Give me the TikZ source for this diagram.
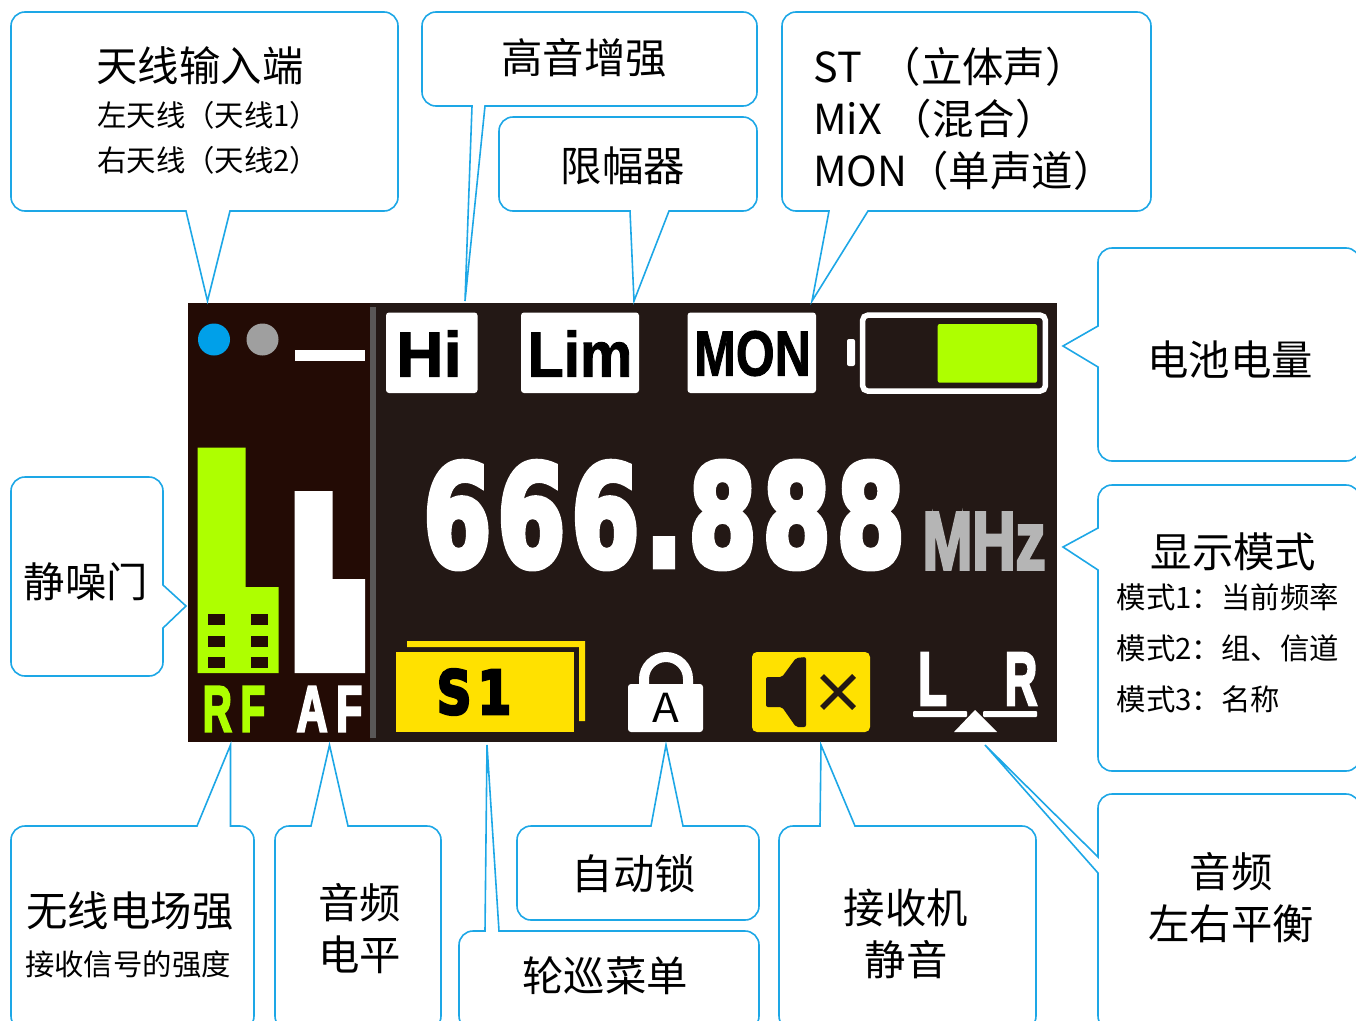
\documentclass[tikz,border=0pt]{standalone}
\usepackage{fontspec}
\usepackage{graphicx}
\setmainfont{Noto Sans CJK SC}
\newfontfamily\arialfont{Liberation Sans Bold}[FakeBold=1.5]
\newfontfamily\heavyfont{Liberation Sans Bold}[FakeBold=4]
\newfontfamily\digitfont{DejaVu Sans Bold}[LetterSpace=6,FakeBold=5]
\newcommand{\fsize}[1]{\fontsize{#1}{#1}\selectfont}
\newcommand{\narrow}[2]{\scalebox{#1}[1]{#2}}
\definecolor{linecyan}{HTML}{1DA7E6}
\definecolor{panelleft}{HTML}{230B05}
\definecolor{panelright}{HTML}{231815}
\definecolor{lcdgreen}{HTML}{AEFF00}
\definecolor{lcdyellow}{HTML}{FFE100}
\definecolor{lcdgrey}{HTML}{595757}
\definecolor{lcdblue}{HTML}{00A0E9}
\definecolor{dotgrey}{HTML}{9F9F9F}
\definecolor{mhzgrey}{HTML}{B5B5B5}
\begin{document}
\begin{tikzpicture}[x=1pt,y=-1pt,
    balloon/.style={draw=linecyan, line width=1.6pt},
    bigtxt/.style={inner sep=0pt, font=\fsize{41.4}},
    smalltxt/.style={inner sep=0pt, anchor=west, font=\fsize{29.4}},
    iconbox/.style={fill=white, rounded corners=3pt},
    lcdtxt/.style={inner sep=0pt}]
    \useasboundingbox (0,0) rectangle (1356,1020);
    \clip (0,0) rectangle (1356,1020);
    % screen
    \fill[panelright] (370,303) rectangle (1057,742);
    \fill[panelleft] (188,303) rectangle (370,742);
    \fill[lcdgrey] (370,307) rectangle (376,738);
    \fill[lcdblue] (214,339.5) circle (16pt);
    \fill[dotgrey] (262.5,339.5) circle (16pt);
    \fill[white] (294.5,350) rectangle (365,361);
    % level bars
    \fill[lcdgreen] (197.5,447.5) -- (245.5,447.5) -- (245.5,587) -- (278.5,587) -- (278.5,673) -- (197.5,673) -- cycle;
    \foreach \y in {614,636,657} {
        \fill[panelleft] (208,\y) rectangle (225,\y+11);
        \fill[panelleft] (251,\y) rectangle (268,\y+11);
    }
    \fill[white] (294.5,491) -- (332.5,491) -- (332.5,579) -- (365,579) -- (365,673) -- (294.5,673) -- cycle;
    \node[lcdtxt, text=lcdgreen, font=\heavyfont\fsize{65}] (rflabel) at (234,709) {\narrow{0.62}{R\kern 14pt F}};
    \node[lcdtxt, text=white, font=\heavyfont\fsize{65}] (aflabel) at (329.5,709) {\narrow{0.66}{A\kern 13pt F}};
    % top row
    \fill[iconbox] (386,312.5) rectangle (477.5,393);
    \fill[iconbox] (521,312.5) rectangle (639,393);
    \fill[iconbox] (687.5,312.5) rectangle (816,393);
    \node[lcdtxt, font=\arialfont\fsize{64}] (hilabel) at (429,353.5) {\narrow{1.02}{Hi}};
    \node[lcdtxt, font=\arialfont\fsize{64}] (limlabel) at (580,353.5) {\narrow{0.92}{Lim}};
    \node[lcdtxt, font=\arialfont\fsize{64}] (monlabel) at (752.5,353.5) {\narrow{0.78}{MON}};
    \fill[white, rounded corners=2pt] (847,339) rectangle (855,366);
    \draw[white, line width=5.5pt, rounded corners=5pt] (862.7,315.2) rectangle (1045.3,391);
    \fill[lcdgreen, rounded corners=2pt] (937.7,324) rectangle (1037,382.7);
    % frequency
    \node[inner sep=0pt, text=white, font=\digitfont\fsize{140}] (freq) at (664,515) {\narrow{0.7}{666.888}};
    \node[lcdtxt, text=mhzgrey, font=\heavyfont\fsize{82}] (mhz) at (984,541) {\narrow{0.73}{MHz}};
    % bottom row
    \fill[lcdyellow] (407,641) -- (585,641) -- (585,721) -- (579,721) -- (579,647) -- (407,647) -- cycle;
    \fill[lcdyellow] (396,652) rectangle (574,732);
    \node[inner sep=0pt, font=\digitfont\fsize{60}] (menulabel) at (474,692) {\narrow{0.8}{S\kern 8pt 1}};
    \draw[white, line width=10pt] (644,690) -- (644,679) arc[start angle=180, end angle=0, radius=22pt] -- (688,690);
    \fill[white, rounded corners=3pt] (628,684) rectangle (703,732);
    \node[inner sep=0pt, font=\fsize{40}] (locklabel) at (666,707.5) {\narrow{1.1}{A}};
    \fill[lcdyellow, rounded corners=5pt] (752,652) rectangle (870,732);
    \fill[panelright, rounded corners=2pt] (766,677) -- (782,677) -- (796,658) -- (806,657) -- (806,727) -- (796,727) -- (782,707) -- (766,707) -- cycle;
    \draw[panelright, line width=5.5pt] (822,676) -- (854,708) (854,676) -- (822,708);
    \node[lcdtxt, text=white, font=\heavyfont\fsize{75}] (leftlabel) at (932.5,679) {\narrow{0.63}{L}};
    \node[lcdtxt, text=white, font=\heavyfont\fsize{75}] (rightlabel) at (1021,679) {\narrow{0.6}{R}};
    \fill[white, rounded corners=1pt] (913,711) rectangle (967,717);
    \fill[white, rounded corners=1pt] (983,711) rectangle (1037,717);
    \fill[white] (975,710) -- (997,732) -- (954,732) -- cycle;
    % top balloons
    \draw[balloon] (186,211) -- (207.5,301) -- (230,211) [rounded corners=14pt] -- (398,211) -- (398,12) -- (11,12) -- (11,211) [sharp corners] -- cycle;
    \node[bigtxt] (antenna) at (200,66) {天线输入端};
    \node[smalltxt] (antleft) at (97,115) {左天线（天线1）};
    \node[smalltxt] (antright) at (97,160) {右天线（天线2）};
    \draw[balloon] (472,106) -- (465,301) -- (485,106) [rounded corners=14pt] -- (757,106) -- (757,12) -- (422,12) -- (422,106) [sharp corners] -- cycle;
    \node[bigtxt] (treble) at (584,58) {高音增强};
    \draw[balloon] (630,211) -- (634,301) -- (669,211) [rounded corners=14pt] -- (757,211) -- (757,117) -- (499,117) -- (499,211) [sharp corners] -- cycle;
    \node[bigtxt] (limiter) at (623,166) {限幅器};
    \draw[balloon] (829,211) -- (812,301) -- (868,211) [rounded corners=14pt] -- (1151,211) -- (1151,12) -- (782,12) -- (782,211) [sharp corners] -- cycle;
    \node[bigtxt, anchor=west, align=left, font=\fontsize{41.4}{52}\selectfont] (stereo) at (813,118.5) {ST\hspace{18pt}（立体声）\\MiX\hspace{9pt}（混合）\\MON（单声道）};
    % right balloons
    \draw[balloon] (1098,326) -- (1063,346) -- (1098,367) [rounded corners=14pt] -- (1098,461) -- (1360,461) -- (1360,248) -- (1098,248) [sharp corners] -- cycle;
    \node[bigtxt] (battery) at (1230,360) {电池电量};
    \draw[balloon] (1098,528) -- (1063,547) -- (1098,570) [rounded corners=14pt] -- (1098,771) -- (1360,771) -- (1360,485) -- (1098,485) [sharp corners] -- cycle;
    \node[bigtxt] (display) at (1233.5,552) {显示模式};
    \node[smalltxt] (modeone) at (1116.5,597) {模式1：当前频率};
    \node[smalltxt] (modetwo) at (1116.5,648) {模式2：组、信道};
    \node[smalltxt] (modethree) at (1116.5,699) {模式3：名称};
    % left balloon
    \draw[balloon] (163,585) -- (186,606) -- (163,628) [rounded corners=14pt] -- (163,676) -- (11,676) -- (11,477) -- (163,477) [sharp corners] -- cycle;
    \node[bigtxt] (squelch) at (86,582) {静噪门};
    % bottom balloons
    \draw[balloon] (197,826) -- (230.5,745) -- (230.5,826) [rounded corners=14pt] -- (254,826) -- (254,1030) -- (11,1030) -- (11,826) [sharp corners] -- cycle;
    \node[bigtxt] (rfstrength) at (130,911) {无线电场强};
    \node[inner sep=0pt, font=\fsize{29.4}] (rfnote) at (128,964) {接收信号的强度};
    \draw[balloon] (311,826) -- (329.5,745) -- (348,826) [rounded corners=14pt] -- (441,826) -- (441,1030) -- (275,1030) -- (275,826) [sharp corners] -- cycle;
    \node[bigtxt, align=center, font=\fontsize{41.4}{52}\selectfont] (aflevel) at (359.5,929) {音频\\电平};
    \draw[balloon] (651,826) -- (666,745) -- (683,826) [rounded corners=14pt] -- (759,826) -- (759,920) -- (517,920) -- (517,826) [sharp corners] -- cycle;
    \node[bigtxt] (autolock) at (634,874) {自动锁};
    \draw[balloon] (485,931) -- (487,745) -- (499,931) [rounded corners=14pt] -- (759,931) -- (759,1030) -- (459,1030) -- (459,931) [sharp corners] -- cycle;
    \node[bigtxt] (scanmenu) at (605,976) {轮巡菜单};
    \draw[balloon] (820,826) -- (821,745) -- (855,826) [rounded corners=14pt] -- (1036,826) -- (1036,1030) -- (779,1030) -- (779,826) [sharp corners] -- cycle;
    \node[bigtxt, align=center, font=\fontsize{41.4}{52}\selectfont] (rxmute) at (906,934) {接收机\\静音};
    \draw[balloon] (1098,857) -- (985,745) -- (1098,873) [rounded corners=14pt] -- (1098,1030) -- (1360,1030) -- (1360,794) -- (1098,794) [sharp corners] -- cycle;
    \node[bigtxt, align=center, font=\fontsize{41.4}{52}\selectfont] (balance) at (1231,897.5) {音频\\左右平衡};
\end{tikzpicture}
\end{document}
